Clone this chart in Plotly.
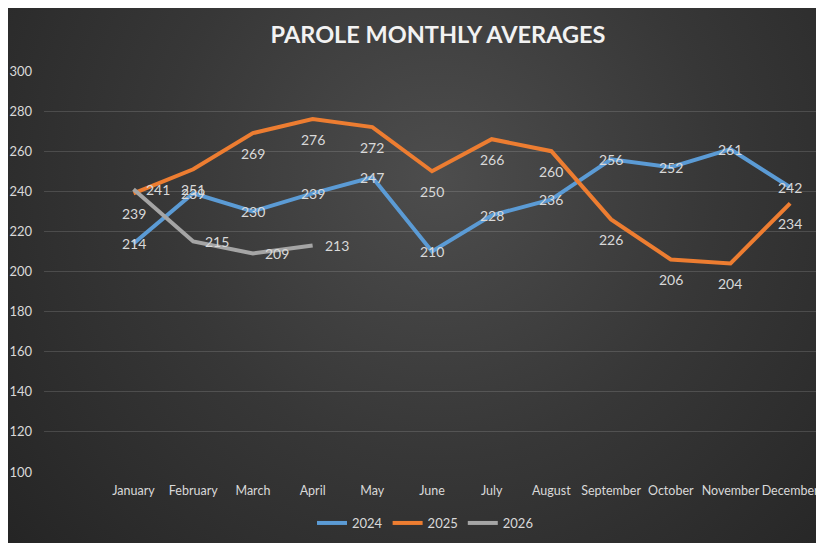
import base64
import plotly.graph_objects as go

months = ["January", "February", "March", "April", "May", "June", "July",
          "August", "September", "October", "November", "December"]
vals_2024 = [214, 239, 230, 239, 247, 210, 228, 236, 256, 252, 261, 242]
vals_2025 = [239, 251, 269, 276, 272, 250, 266, 260, 226, 206, 204, 234]
vals_2026 = [241, 215, 209, 213]
y_ticks = [100, 120, 140, 160, 180, 200, 220, 240, 260, 280, 300]

W, H = 824, 543
OFF = 8  # page offset of the figure
L, T = 44 - OFF, 71 - OFF
R = W - (820 - OFF)
B = H - (472 - OFF)
pw, ph = W - L - R, H - T - B

FONT = "Lato, Carlito, Calibri, sans-serif"
LBL = "#D9D9D9"

series = [
    ("2024", vals_2024, "#5B9BD5", dict(xshift=0, yshift=0)),
    ("2025", vals_2025, "#ED7D31", dict(xshift=0, yshift=-20)),
    ("2026", vals_2026, "#A5A5A5", dict(xshift=24, yshift=0)),
]

fig = go.Figure()
annotations = []
for name, vals, color, off in series:
    xs = list(range(len(vals)))
    fig.add_trace(go.Scatter(
        x=xs, y=vals, mode="lines", name=name,
        line=dict(color=color, width=4),
        hoverinfo="skip",
    ))
    for xi, v in zip(xs, vals):
        annotations.append(dict(
            x=xi, y=v, xref="x", yref="y", text=str(v), showarrow=False,
            font=dict(family=FONT, size=14, color=LBL),
            xanchor="center", yanchor="middle", **off,
        ))

svg = f'''<svg xmlns="http://www.w3.org/2000/svg" width="{W}" height="{H}" viewBox="0 0 {W} {H}" preserveAspectRatio="none">
<defs><radialGradient id="g" gradientUnits="userSpaceOnUse" cx="430" cy="170" r="560" fx="430" fy="170">
<stop offset="0" stop-color="#4d4d4d"/><stop offset="0.5" stop-color="#373737"/><stop offset="1" stop-color="#252525"/>
</radialGradient></defs>
<rect width="{W}" height="{H}" fill="url(#g)"/></svg>'''
src = "data:image/svg+xml;base64," + base64.b64encode(svg.encode()).decode()

fig.update_layout(
    width=W, height=H,
    margin=dict(l=L, r=R, t=T, b=B),
    paper_bgcolor="#2b2b2b",
    plot_bgcolor="rgba(0,0,0,0)",
    images=[dict(source=src, xref="paper", yref="paper", x=-L / pw, y=1 + T / ph,
                 sizex=W / pw, sizey=H / ph, xanchor="left", yanchor="top",
                 sizing="stretch", layer="below")],
    title=dict(text="<b>PAROLE MONTHLY AVERAGES</b>", x=(438 - OFF - L) / pw, xref="paper",
               xanchor="center", y=1 - (35 - OFF) / H, yanchor="middle",
               font=dict(family=FONT, size=23.5, color="#F2F2F2")),
    xaxis=dict(range=[-1.5, 11.5], tickvals=list(range(12)), ticktext=months,
               tickangle=0, automargin=False, ticklabelstandoff=9,
               showgrid=False, zeroline=False, showline=False, ticks="",
               tickfont=dict(family=FONT, size=12.5, color=LBL)),
    yaxis=dict(range=[100, 300], tickvals=y_ticks, showgrid=True,
               gridcolor="rgba(217,217,217,0.17)", gridwidth=1,
               zeroline=False, showline=False, ticks="", automargin=False,
               ticklabelstandoff=11,
               tickfont=dict(family=FONT, size=13, color=LBL)),
    legend=dict(orientation="h", x=(425 - OFF - L) / pw, xanchor="center",
                y=-(523 - 472) / ph, yanchor="middle",
                font=dict(family=FONT, size=13, color=LBL),
                bgcolor="rgba(0,0,0,0)", itemwidth=30),
    annotations=annotations,
    showlegend=True,
)

fig.write_html("out.html")
